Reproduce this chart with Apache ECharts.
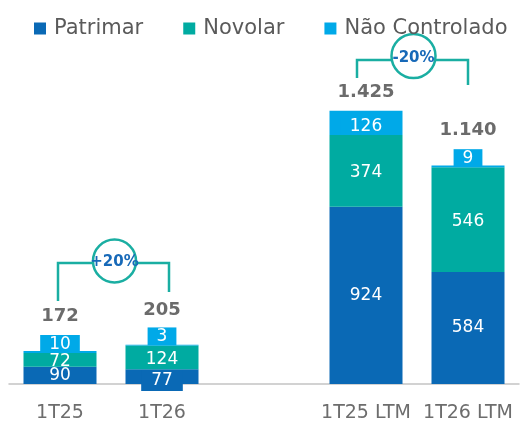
<!DOCTYPE html>
<html>
<head>
<meta charset="utf-8">
<script src="https://cdn.jsdelivr.net/npm/echarts@6/dist/echarts.min.js"></script>
<style>
  html, body { margin: 0; padding: 0; background: #fff; }
  #chart { width: 520px; height: 424px; }
</style>
</head>
<body>
<div id="chart"></div>
<script>
var categories = ['1T25', '1T26', '', '1T25 LTM', '1T26 LTM'];
var patrimar = [90, 77, null, 924, 584];
var novolar = [72, 124, null, 374, 546];
var naoControlado = [10, 3, null, 126, 9];
var totals = [172, 205, null, 1425, 1140];

var cPatrimar = '#0a69b5';
var cNovolar = '#00aba1';
var cNao = '#00a9e8';
var cTeal = '#1aaea2';
var font = 'DejaVu Sans';

function fmt(v) {
    return v.toLocaleString('pt-BR');
}

var myChart = echarts.init(document.getElementById('chart'));

var innerLabel = {
    show: true,
    position: 'inside',
    color: '#fff',
    fontFamily: font,
    fontSize: 17
};

myChart.setOption({
    animation: false,
    legend: {
        data: ['Patrimar', 'Novolar', 'Não Controlado'],
        left: 29,
        top: 13,
        itemWidth: 12,
        itemHeight: 12,
        itemGap: 40,
        icon: 'rect',
        textStyle: {
            color: '#5a5a5a',
            fontFamily: font,
            fontSize: 21,
            padding: [0, 0, 0, 3]
        }
    },
    grid: { left: 9, right: 1, top: 77, bottom: 40 },
    xAxis: {
        type: 'category',
        data: categories,
        axisTick: { show: false },
        axisLine: { lineStyle: { color: '#c4c4c4', width: 1.5 } },
        axisLabel: {
            interval: 0,
            hideOverlap: false,
            color: '#6d6d6d',
            fontFamily: font,
            fontSize: 19,
            margin: 20
        }
    },
    yAxis: {
        type: 'value',
        min: 0,
        max: 1600,
        show: false,
        splitLine: { show: false }
    },
    series: [{
        name: 'Patrimar',
        type: 'bar',
        stack: 'total',
        barWidth: 73,
        itemStyle: { color: cPatrimar },
        label: innerLabel,
        data: patrimar.map(function(v, i) {
            // the small 1T26 value shows its label as a box
            if (i === 1) {
                return { value: v, label: { backgroundColor: cPatrimar, padding: [2, 10], offset: [0, 4] } };
            }
            return v;
        })
    }, {
        name: 'Novolar',
        type: 'bar',
        stack: 'total',
        itemStyle: { color: cNovolar },
        label: Object.assign({}, innerLabel, { offset: [0, 2] }),
        data: novolar
    }, {
        name: 'Não Controlado',
        type: 'bar',
        stack: 'total',
        itemStyle: { color: cNao },
        label: Object.assign({}, innerLabel, {
            position: 'insideBottom',
            distance: 0,
            backgroundColor: cNao,
            padding: [1, 9, 0, 9]
        }),
        data: naoControlado
    }, {
        name: 'Total',
        type: 'bar',
        stack: 'total',
        itemStyle: { color: 'transparent' },
        data: totals.map(function(t, i) {
            if (t === null) return null;
            return {
                value: 0,
                label: {
                    show: true,
                    position: 'top',
                    distance: naoControlado[i] < 50 ? 26 : 9,
                    formatter: fmt(t),
                    color: '#6b6b6b',
                    fontFamily: font,
                    fontWeight: 'bold',
                    fontSize: 18
                }
            };
        })
    }],
    graphic: [
        // +20% bracket
        { type: 'polyline', shape: { points: [[58, 301], [58, 263], [93, 263]] }, style: { stroke: cTeal, lineWidth: 2.5, fill: null } },
        { type: 'polyline', shape: { points: [[136, 263], [169, 263], [169, 292]] }, style: { stroke: cTeal, lineWidth: 2.5, fill: null } },
        { type: 'circle', shape: { cx: 114.5, cy: 261, r: 21.5 }, style: { stroke: cTeal, lineWidth: 2.5, fill: '#fff' } },
        { type: 'text', x: 114.5, y: 262, style: { text: '+20%', fill: '#1769b8', font: 'bold 15px "DejaVu Sans"', align: 'center', verticalAlign: 'middle' } },
        // -20% bracket
        { type: 'polyline', shape: { points: [[357, 78], [357, 60], [392, 60]] }, style: { stroke: cTeal, lineWidth: 2.5, fill: null } },
        { type: 'polyline', shape: { points: [[435, 60], [468, 60], [468, 85]] }, style: { stroke: cTeal, lineWidth: 2.5, fill: null } },
        { type: 'circle', shape: { cx: 413.5, cy: 56, r: 22 }, style: { stroke: cTeal, lineWidth: 2.5, fill: '#fff' } },
        { type: 'text', x: 413.5, y: 58, style: { text: '-20%', fill: '#1769b8', font: 'bold 15px "DejaVu Sans"', align: 'center', verticalAlign: 'middle' } }
    ]
});
</script>
</body>
</html>
